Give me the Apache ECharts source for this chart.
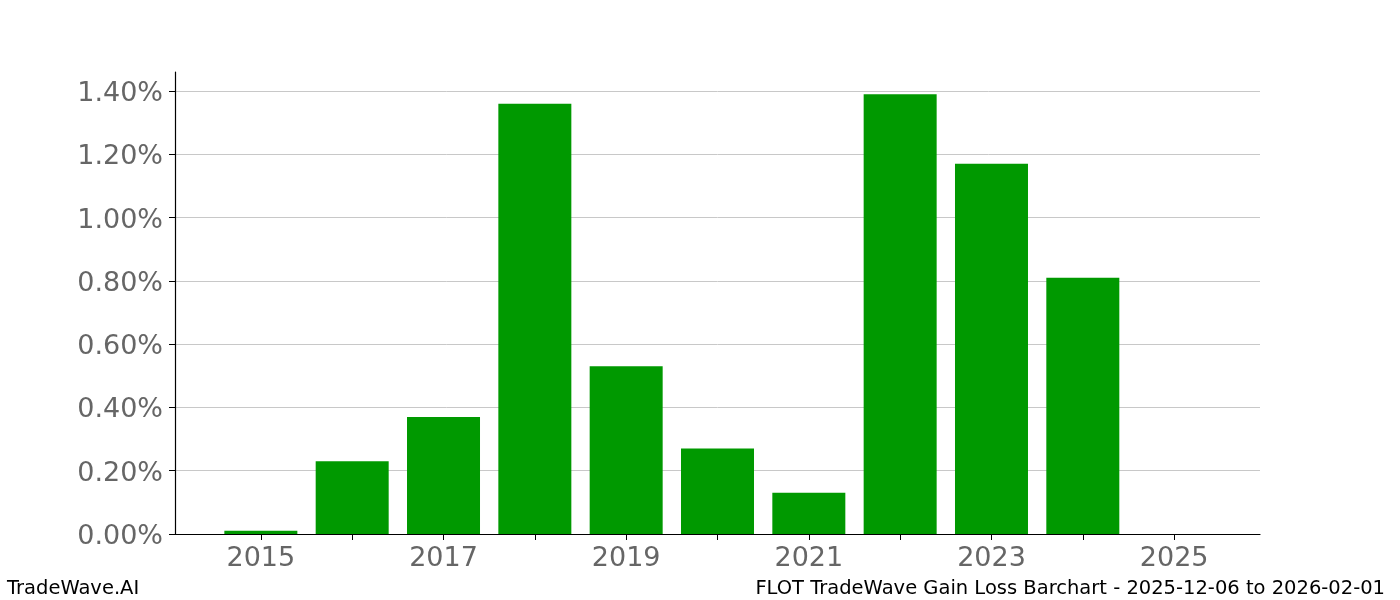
<!DOCTYPE html>
<html lang="en">
<head>
    <meta charset="UTF-8">
    <title>FLOT TradeWave Gain Loss Barchart</title>
    <script src="https://cdn.jsdelivr.net/npm/echarts@6/dist/echarts.min.js"></script>
    <style>
        html, body { margin: 0; padding: 0; background: #fff; }
        #chart { width: 1400px; height: 600px; }
    </style>
</head>
<body>
<div id="chart"></div>
<script type="text/javascript">
    // yearly gain, in percent
    var years = [2015, 2016, 2017, 2018, 2019, 2020, 2021, 2022, 2023, 2024, 2025];
    var gains = [0.01, 0.23, 0.37, 1.36, 0.53, 0.27, 0.13, 1.39, 1.17, 0.81, 0];
    var tickYears = [2015, 2016, 2017, 2018, 2019, 2020, 2021, 2022, 2023, 2024, 2025];
    var labelYears = [2015, 2017, 2019, 2021, 2023, 2025];

    var font = 'DejaVu Sans';
    var chart = echarts.init(document.getElementById('chart'));

    var barData = [];
    for (var i = 0; i < years.length; i++) {
        barData.push([years[i], gains[i]]);
    }

    chart.setOption({
        animation: false,
        grid: { left: 175, right: 140, top: 72, bottom: 66 },
        xAxis: {
            type: 'value',
            min: 2014.06,
            max: 2025.94,
            splitLine: { show: false },
            axisLine: { lineStyle: { color: '#000', width: 1.2 } },
            axisTick: { show: true, length: 6, customValues: tickYears, lineStyle: { color: '#000' } },
            axisLabel: {
                customValues: labelYears,
                color: '#666', fontSize: 27, fontFamily: font, margin: 11,
                formatter: function (v) { return String(v); }
            }
        },
        yAxis: {
            type: 'value',
            min: 0,
            max: 1.46,
            interval: 0.2,
            axisLine: { show: true, lineStyle: { color: '#000', width: 1.2 } },
            axisTick: { show: true, length: 6, lineStyle: { color: '#000' } },
            splitLine: { showMaxLine: false, lineStyle: { color: '#c8c8c8', width: 1 } },
            axisLabel: {
                color: '#666', fontSize: 27, fontFamily: font, margin: 12,
                formatter: function (v) { return '{v|' + v.toFixed(2) + '%}'; },
                rich: { v: { color: '#666', fontSize: 27, fontFamily: font, padding: [6, 0, 0, 0] } },
                showMaxLabel: false
            }
        },
        series: [{
            type: 'bar',
            data: barData,
            barWidth: 73,
            itemStyle: { color: '#009900' }
        }],
        graphic: [
            {
                type: 'text', left: 7, top: 579,
                style: { text: 'TradeWave.AI', fill: '#000', font: '19.5px "DejaVu Sans"' }
            },
            {
                type: 'text', right: 15, top: 579,
                style: { text: 'FLOT TradeWave Gain Loss Barchart - 2025-12-06 to 2026-02-01', fill: '#000', font: '19.5px "DejaVu Sans"' }
            }
        ]
    });
</script>
</body>
</html>
